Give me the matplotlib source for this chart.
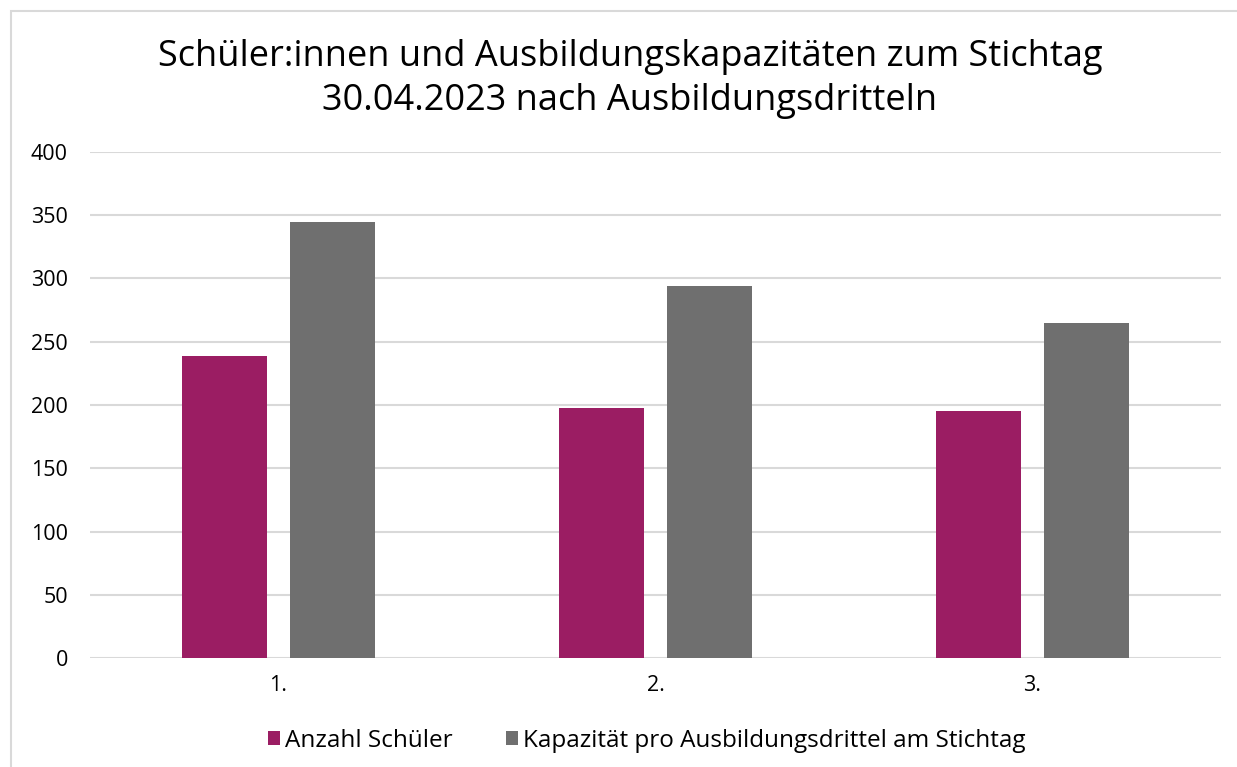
import matplotlib.pyplot as plt
from matplotlib.patches import Rectangle

categories = ["1.", "2.", "3."]
anzahl_schueler = [239, 198, 195]
kapazitaet = [345, 294, 265]
y_ticks = [0, 50, 100, 150, 200, 250, 300, 350, 400]

series_labels = ["Anzahl Schüler", "Kapazität pro Ausbildungsdrittel am Stichtag"]
title = "Schüler:innen und Ausbildungskapazitäten zum Stichtag\n30.04.2023 nach Ausbildungsdritteln"

plt.rcParams['font.family'] = ['Open Sans', 'DejaVu Sans']

W, H = 1237, 767
fig = plt.figure(figsize=(W / 100, H / 100), dpi=100)

# outer chart frame
fig.patches.append(Rectangle((11 / W, -0.01), 1.2, 1 - 11 / H + 0.01, transform=fig.transFigure,
                             fill=False, edgecolor="#D9D9D9", linewidth=1.5))

ax = fig.add_axes([90 / W, 1 - 658 / H, (1221 - 90) / W, (658 - 152) / H])

x = list(range(len(categories)))
bw = 0.225
off = 0.143
c1, c2 = "#9B1D63", "#6F6F6F"
b1 = ax.bar([i - off for i in x], anzahl_schueler, width=bw, color=c1, label=series_labels[0], zorder=3)
b2 = ax.bar([i + off for i in x], kapazitaet, width=bw, color=c2, label=series_labels[1], zorder=3)

ax.set_xlim(-0.5, 2.5)
ax.set_ylim(0, 400)
ax.set_yticks(y_ticks)
ax.set_xticks(x)
ax.set_xticklabels(categories)
ax.grid(axis="y", color="#D9D9D9", linewidth=1.5, zorder=0)
for s in ["top", "right", "left", "bottom"]:
    ax.spines[s].set_visible(False)
ax.tick_params(axis="both", length=0, labelsize=15.5, colors="#000000")
ax.tick_params(axis="y", pad=16)
ax.tick_params(axis="x", pad=12)

fig.text(630 / W, 1 - 79 / H, title, ha="center", va="center", fontsize=26, linespacing=1.3)

leg = fig.legend(handles=[b1, b2], labels=series_labels, loc="center", bbox_to_anchor=(647 / W, 1 - 741 / H),
                 ncol=2, frameon=False, fontsize=17.5, handlelength=0.5, handleheight=0.5,
                 handletextpad=0.2, columnspacing=2.2)

fig.savefig("out.png", dpi=100)
